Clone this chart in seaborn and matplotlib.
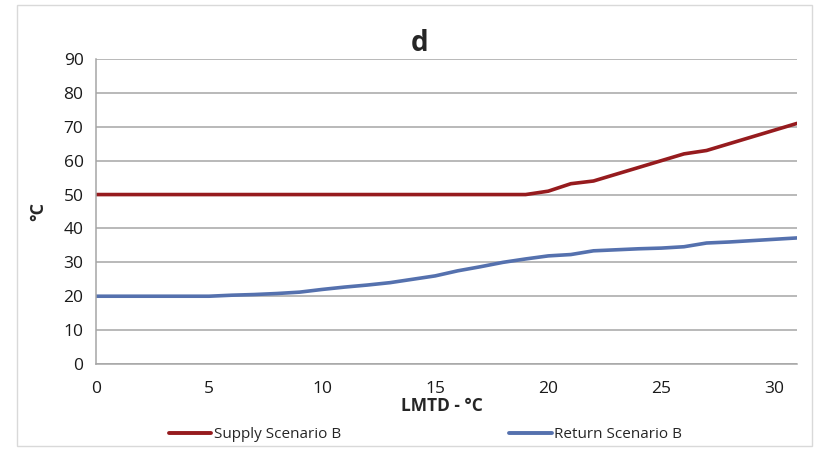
import pandas as pd
import matplotlib.pyplot as plt
import seaborn as sns
from matplotlib.lines import Line2D

# values
lmtd = list(range(0, 32))
supply_b = [50, 50, 50, 50, 50, 50, 50, 50, 50, 50,
            50, 50, 50, 50, 50, 50, 50, 50, 50, 50,
            51, 53.2, 54, 56, 58, 60, 62, 63, 65, 67, 69, 71]
return_b = [20, 20, 20, 20, 20, 20, 20.3, 20.5, 20.8, 21.2,
            22, 22.7, 23.3, 24, 25, 26, 27.5, 28.7, 30, 31,
            31.9, 32.3, 33.4, 33.7, 34, 34.2, 34.6, 35.7, 36, 36.4, 36.8, 37.2]
series_names = ["Supply Scenario B", "Return Scenario B"]
colors = {series_names[0]: "#961b1e", series_names[1]: "#5571ae"}

df = pd.DataFrame({"LMTD": lmtd + lmtd,
                   "T": supply_b + return_b,
                   "Series": [series_names[0]] * len(lmtd) + [series_names[1]] * len(lmtd)})

sns.set_style("white")
plt.rcParams['font.family'] = ['Open Sans', 'DejaVu Sans']

fig = plt.figure(figsize=(8.21, 4.54), dpi=100)
ax = fig.add_axes([96 / 821, 1 - 364 / 454, (797 - 96) / 821, (364 - 59) / 454])

sns.lineplot(data=df, x="LMTD", y="T", hue="Series", palette=colors,
             linewidth=2.6, ax=ax, legend=False)

ax.set_xlim(0, 31)
ax.set_ylim(0, 90)
ax.set_xticks(range(0, 31, 5))
ax.set_yticks(range(0, 91, 10))
ax.yaxis.grid(True, color="#a6a6a6", linewidth=1.1)
ax.set_axisbelow(True)
for s in ["top", "right"]:
    ax.spines[s].set_visible(False)
for s in ["left", "bottom"]:
    ax.spines[s].set_color("#a6a6a6")
    ax.spines[s].set_linewidth(1.1)
ax.tick_params(axis="both", which="both", direction="out", length=5, color="#a6a6a6",
               labelsize=12.5, labelcolor="#1a1a1a", width=1.1)
ax.tick_params(axis="y", pad=4)
ax.tick_params(axis="x", pad=7)

ax.set_xlabel("LMTD - °C", fontsize=12.5, fontweight="bold", labelpad=0, x=(442 - 96) / 701)
ax.set_ylabel("°C", fontsize=13, fontweight="bold", labelpad=12)
ax.set_title("d", fontsize=20, fontweight="bold", pad=6, x=(420 - 96) / 701)

handles = [Line2D([], [], color=colors[n], lw=2.8) for n in series_names]
fig.legend(handles, series_names, loc="center", bbox_to_anchor=(0.518, 1 - 435 / 454),
           ncol=2, frameon=False, fontsize=11, columnspacing=11, handlelength=2.8, handletextpad=0.15)

# light frame around the chart
fig.patches.append(plt.Rectangle((17 / 821, 1 - 446 / 454), (812 - 17) / 821, (446 - 5) / 454,
                                 transform=fig.transFigure, fill=False, edgecolor="#d9d9d9", lw=1))

fig.savefig("out.png", dpi=100)
